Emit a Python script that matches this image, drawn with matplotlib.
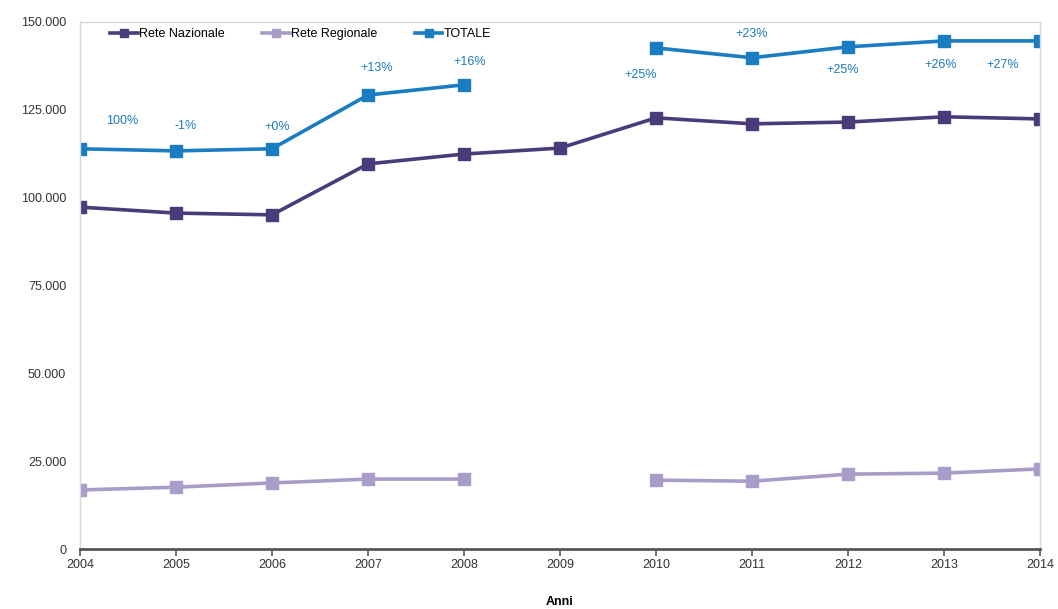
import matplotlib.pyplot as plt
import numpy as np
from matplotlib.ticker import FuncFormatter

plt.rcParams['font.family'] = ['Liberation Sans', 'DejaVu Sans']

anni = [2004, 2005, 2006, 2007, 2008, 2009, 2010, 2011, 2012, 2013, 2014]
nazionale = [97300, 95600, 95100, 109600, 112400, 114100, 122700, 121000, 121500, 123000, 122400]
regionale = [16800, 17600, 18800, 19900, 19900, np.nan, 19600, 19300, 21300, 21600, 22800]
totale = [113900, 113300, 113900, 129200, 132100, np.nan, 142600, 139800, 142900, 144600, 144600]
etichette = ["100%", "-1%", "+0%", "+13%", "+16%", None, "+25%", "+23%", "+25%", "+26%", "+27%"]
# label offsets (years, value) relative to the TOTALE point
offs = [(0.44, 8000), (0.1, 7000), (0.05, 6300), (0.09, 7700), (0.06, 6500), None,
        (-0.16, -7700), (0.0, 6800), (-0.06, -6500), (-0.04, -6800), (-0.39, -6800)]

c_naz = "#4a3b7a"
c_reg = "#a99cc9"
c_tot = "#1a7cc1"

fig = plt.figure(figsize=(10.58, 6.09), dpi=100)
ax = fig.add_axes([0.0756, 0.0985, 0.9074, 0.8655])

ax.plot(anni, nazionale, color=c_naz, lw=2.6, marker="s", ms=9, label="Rete Nazionale")
ax.plot(anni, regionale, color=c_reg, lw=2.6, marker="s", ms=9, label="Rete Regionale")
ax.plot(anni, totale, color=c_tot, lw=2.6, marker="s", ms=9, label="TOTALE")

for x, y, t, o in zip(anni, totale, etichette, offs):
    if t is None:
        continue
    ax.text(x + o[0], y + o[1], t, color=c_tot, fontsize=9, ha="center", va="center")

ax.set_xlim(2004, 2014)
ax.set_ylim(0, 150000)
ax.set_xticks(anni)
ax.set_yticks(np.arange(0, 150001, 25000))
ax.yaxis.set_major_formatter(FuncFormatter(lambda v, p: "0" if v == 0 else f"{int(v):,}".replace(",", ".")))
ax.tick_params(axis="y", length=0, labelsize=9, colors="#333333", pad=10)
ax.tick_params(axis="x", length=5, width=1.2, color="#555555", labelsize=9, labelcolor="#333333", pad=2)

for s in ["top", "right", "left"]:
    ax.spines[s].set_color("#d8d8d8")
    ax.spines[s].set_linewidth(1)
ax.spines["bottom"].set_color("#555555")
ax.spines["bottom"].set_linewidth(2)

ax.set_xlabel("Anni", fontsize=9, fontweight="bold", labelpad=18)

ax.legend(loc="upper left", ncol=3, frameon=False, fontsize=9, handlelength=2.2,
          handletextpad=0.1, columnspacing=3, markerscale=0.7, bbox_to_anchor=(0.02, 1.01))

fig.savefig("out.png", dpi=100)
